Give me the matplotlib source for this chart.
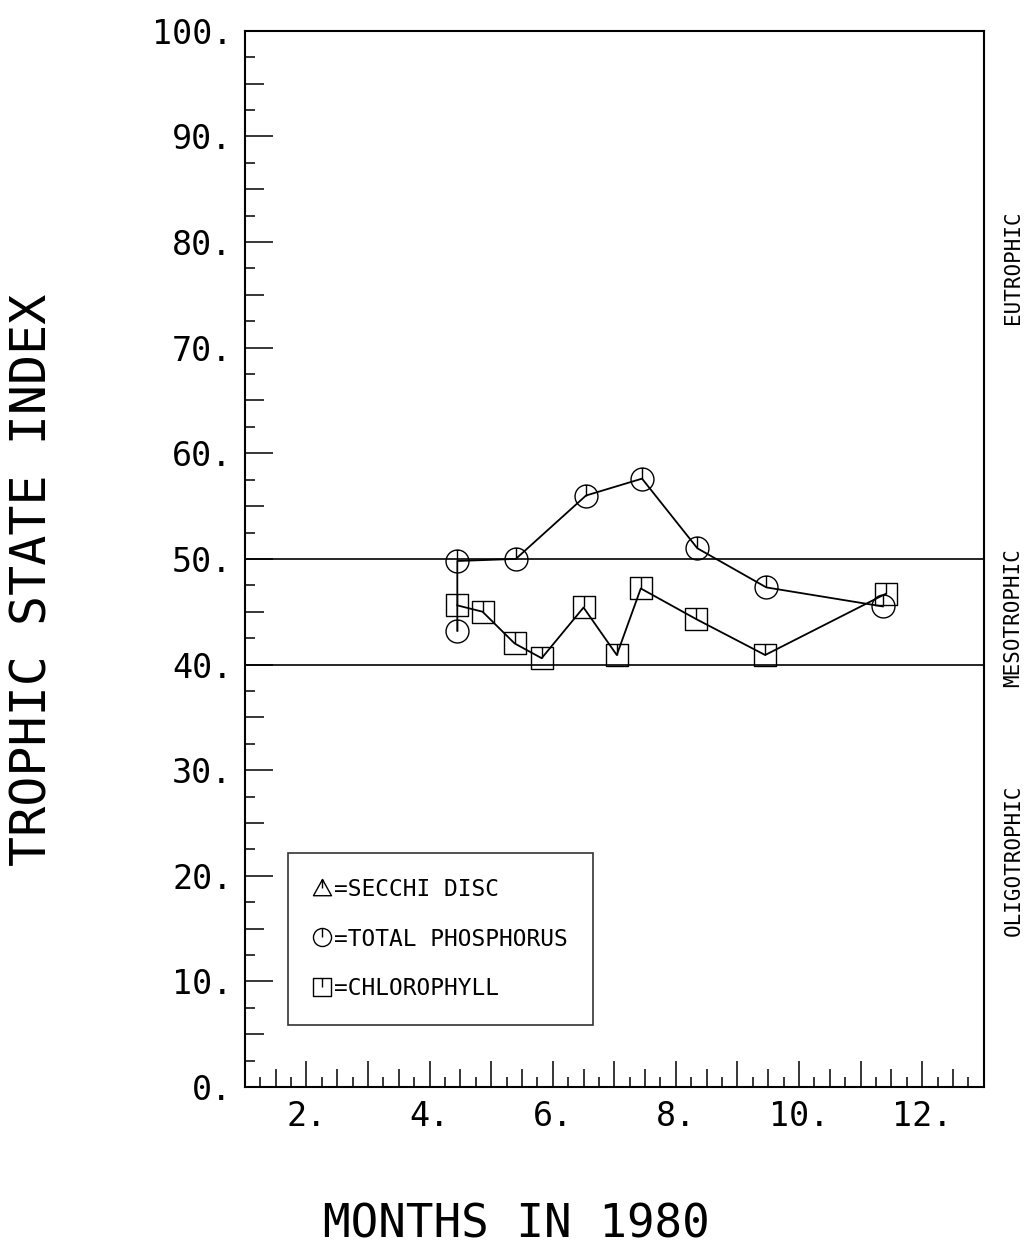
import matplotlib
matplotlib.use('Agg')
import matplotlib.pyplot as plt
import matplotlib.transforms as mtransforms
from matplotlib.path import Path
from matplotlib.lines import Line2D
import numpy as np

# data (months in 1980, trophic state index)
tp_months = [4.45, 4.45, 5.40, 6.54, 7.45, 8.35, 9.47, 11.36]
tp_tsi = [43.2, 49.8, 50.0, 56.0, 57.6, 51.0, 47.3, 45.5]
chl_months = [4.45, 4.86, 5.38, 5.82, 6.50, 7.04, 7.43, 8.33, 9.45, 11.41]
chl_tsi = [45.6, 45.0, 42.0, 40.6, 45.4, 40.9, 47.2, 44.3, 40.9, 46.7]

class_bounds = [40, 50]
class_names = ['OLIGOTROPHIC', 'MESOTROPHIC', 'EUTROPHIC']
class_label_y = [21.5, 44.4, 77.6]
legend_labels = ['=SECCHI DISC', '=TOTAL PHOSPHORUS', '=CHLOROPHYLL']

FONT = 'DejaVu Sans Mono'
plt.rcParams['font.family'] = FONT


# plotter style symbols: outline with a short stroke from the top to the centre
def ticked(outline):
    stroke = Path([(0, 0), (0, 1)], [Path.MOVETO, Path.LINETO])
    return Path.make_compound_path(outline, stroke)


circ = ticked(Path.unit_circle())
sq = ticked(Path([(-1, -1), (1, -1), (1, 1), (-1, 1), (-1, -1)],
                 [Path.MOVETO, Path.LINETO, Path.LINETO, Path.LINETO, Path.CLOSEPOLY]))
tri = ticked(Path([(-1, -0.8), (1, -0.8), (0, 1), (-1, -0.8)],
                  [Path.MOVETO, Path.LINETO, Path.LINETO, Path.CLOSEPOLY]))

fig = plt.figure(figsize=(10.29, 12.47), dpi=100)
ax = fig.add_axes([0.238, 0.1283, 0.718, 0.847])

for b in class_bounds:
    ax.axhline(b, color='black', lw=1.2)

ax.plot(tp_months, tp_tsi, color='black', lw=1.3, marker=circ, ms=16.5,
        mfc='none', mec='black', mew=1.0)
ax.plot(chl_months, chl_tsi, color='black', lw=1.3, marker=sq, ms=15.5,
        mfc='none', mec='black', mew=1.0)

ax.set_xlim(1, 13)
ax.set_ylim(0, 100)

# y ticks: long at 10s, medium at 5s, short at 2.5s
yt = np.arange(0, 101, 5)
ax.set_yticks(yt)
ax.set_yticklabels([f'{v}.' if v % 10 == 0 else '' for v in yt])
ax.set_yticks(np.arange(2.5, 100, 5), minor=True)

# x ticks: long at months, medium at half months, short at quarters
xt = np.arange(1, 13.01, 0.5)
ax.set_xticks(xt)
ax.set_xticklabels([f'{int(v)}.' if v == int(v) and int(v) % 2 == 0 else '' for v in xt])
ax.set_xticks(np.arange(1.25, 13, 0.5), minor=True)

ax.tick_params(which='both', direction='in', width=1.1, top=False, right=False)
ax.tick_params(which='major', labelsize=24, pad=9)
ax.tick_params(which='minor', length=7)
for t, v in zip(ax.yaxis.get_major_ticks(), yt):
    t.tick1line.set_markersize(20 if v % 10 == 0 else 13.5)
for t, v in zip(ax.xaxis.get_major_ticks(), xt):
    t.tick1line.set_markersize(18.5 if v == int(v) else 13)

for s in ax.spines.values():
    s.set_linewidth(1.5)

# trophic class names on the right
trans = mtransforms.blended_transform_factory(ax.transAxes, ax.transData)
for name, y in zip(class_names, class_label_y):
    ax.text(1.04, y, name, transform=trans, rotation=90, ha='center',
            va='center', fontsize=15)

handles = [Line2D([], [], ls='none', marker=m, ms=13, mfc='none', mec='black', mew=1.0)
           for m in (tri, circ, sq)]
leg = ax.legend(handles, legend_labels, loc='upper left',
                bbox_to_anchor=(0.058, 0.2216), fontsize=16.5, frameon=True,
                fancybox=False, edgecolor='black', handlelength=0.8,
                handletextpad=0.1, labelspacing=1.15, borderpad=1.1,
                borderaxespad=0)
leg.get_frame().set_linewidth(1.2)

fig.text(0.5015, 0.0176, 'MONTHS IN 1980', ha='center', va='center', fontsize=33)
fig.text(0.032, 0.535, 'TROPHIC STATE INDEX', ha='center', va='center',
         rotation=90, fontsize=36)

fig.savefig('out.png', dpi=100, facecolor='white')
